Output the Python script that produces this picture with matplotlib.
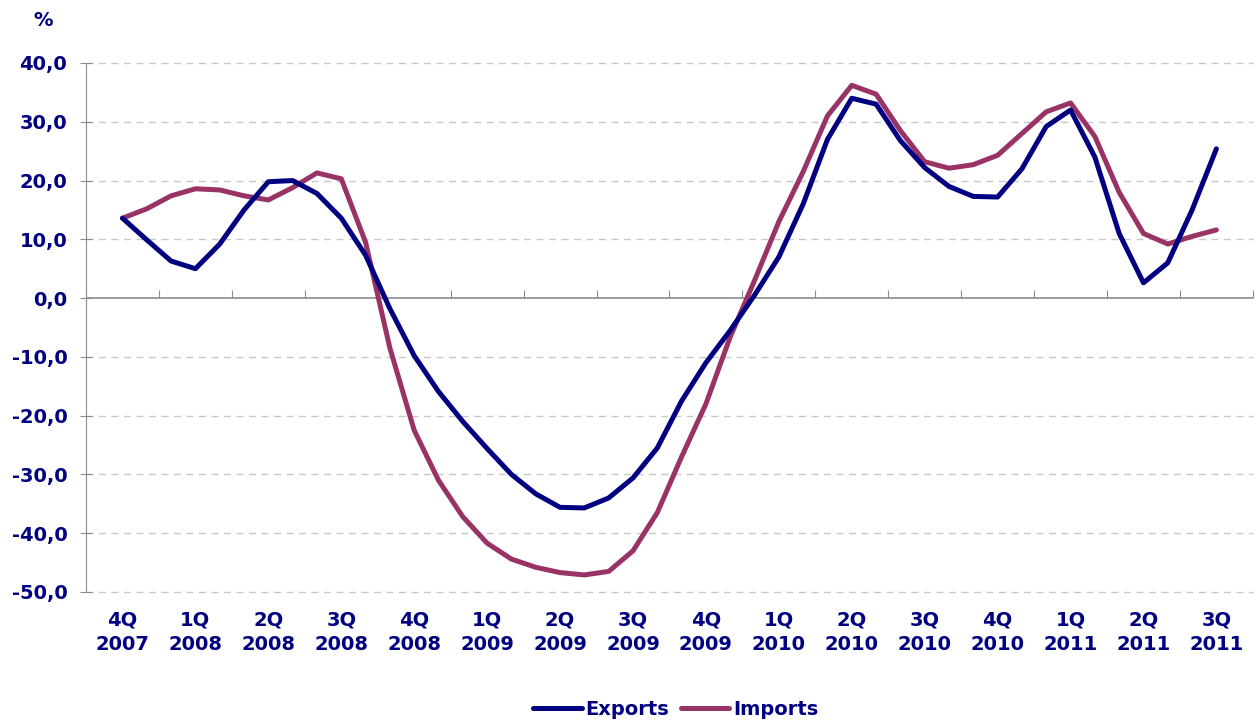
import numpy as np
import matplotlib
matplotlib.use("Agg")
import matplotlib.pyplot as plt

# quarter labels on the category axis
quarters = ["4Q\n2007", "1Q\n2008", "2Q\n2008", "3Q\n2008", "4Q\n2008", "1Q\n2009",
            "2Q\n2009", "3Q\n2009", "4Q\n2009", "1Q\n2010", "2Q\n2010", "3Q\n2010",
            "4Q\n2010", "1Q\n2011", "2Q\n2011", "3Q\n2011"]

# monthly values, y/y change in %
exports = [13.6, 9.9, 6.3, 5.0, 9.2, 15.0, 19.8, 20.0, 17.8, 13.6,
           7.3, -1.8, -9.8, -15.9, -21.0, -25.6, -30.0, -33.3, -35.6, -35.7,
           -34.0, -30.6, -25.5, -17.5, -11.0, -5.5, 0.5, 7.0, 16.0, 27.0,
           34.0, 33.0, 26.8, 22.2, 19.0, 17.3, 17.2, 22.0, 29.2, 32.0,
           24.0, 11.0, 2.6, 6.0, 15.0, 25.4]
imports = [13.6, 15.2, 17.4, 18.6, 18.4, 17.4, 16.7, 18.8, 21.3, 20.3,
           9.5, -8.5, -22.5, -31.0, -37.2, -41.7, -44.4, -45.8, -46.7, -47.1,
           -46.5, -43.0, -36.5, -27.0, -18.0, -6.6, 3.0, 13.0, 21.5, 31.0,
           36.2, 34.7, 28.5, 23.2, 22.1, 22.7, 24.3, 28.0, 31.7, 33.2,
           27.5, 18.0, 11.0, 9.2, 10.5, 11.6]

navy = "#000080"
plum = "#993366"
grey = "#8c8c8c"
fs = 14

plt.rcParams['font.family'] = ['DejaVu Sans']
plt.rcParams['font.weight'] = 'bold'

fig = plt.figure(figsize=(12.56, 7.2), dpi=100)
ax = fig.add_axes([0.0685, 0.1778, 0.929, 0.7347])

x = np.arange(len(exports)) / 3.0
ax.plot(x, exports, color=navy, lw=3.6, solid_joinstyle='round', solid_capstyle='round',
        label="Exports", zorder=4)
ax.plot(x, imports, color=plum, lw=3.6, solid_joinstyle='round', solid_capstyle='round',
        label="Imports", zorder=3)

ax.set_xlim(-0.5, len(quarters) - 0.5)
ax.set_ylim(-50, 40)
yt = np.arange(-50, 41, 10)
ax.set_yticks(yt)
ax.set_yticklabels([f"{v:.1f}".replace(".", ",") for v in yt])
for v in yt:
    if v != 0:
        ax.axhline(v, color="#c8c8c8", lw=1, ls=(0, (5, 4)), zorder=1, clip_on=False)
ax.axhline(0, color=grey, lw=1.2, zorder=2)

ax.set_xticks(np.arange(len(quarters)))
ax.set_xticklabels(quarters, linespacing=1.4)
ax.tick_params(axis='x', length=0, pad=13, labelsize=fs, labelcolor=navy)
ax.tick_params(axis='y', direction='inout', length=9, color=grey, pad=9,
               labelsize=fs, labelcolor=navy)

for s in ['top', 'right', 'bottom']:
    ax.spines[s].set_visible(False)
ax.spines['left'].set_color(grey)

# tick marks between quarters on the zero line
sec = ax.secondary_xaxis(50 / 90)
sec.set_xticks(np.arange(-0.5, len(quarters), 1.0))
sec.set_xticklabels([])
sec.tick_params(length=6, color=grey, direction='out')
sec.spines['bottom'].set_visible(False)
sec.spines['top'].set_visible(False)

fig.text(0.034, 0.972, "%", color=navy, fontsize=fs, fontweight='bold', va='center', ha='center')

leg = fig.legend(loc='center', bbox_to_anchor=(0.538, 0.015), ncol=2, frameon=False,
                 fontsize=fs, handlelength=2.5, handletextpad=0.2, columnspacing=0.6)
for t in leg.get_texts():
    t.set_color(navy)

fig.savefig("out.png", dpi=100)
